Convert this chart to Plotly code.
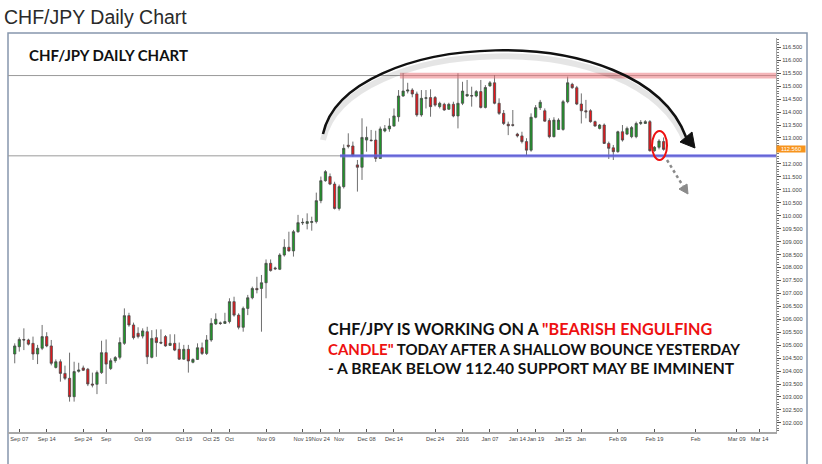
import numpy as np
import plotly.graph_objects as go

# ---------------- data ----------------
opens = [104.66, 104.94, 105.22, 105.20, 105.07, 104.66, 104.88, 105.33, 104.97, 104.14,
         104.36, 103.91, 103.72, 103.01, 103.99, 104.12, 104.07, 103.50, 103.49, 103.94,
         104.71, 104.10, 104.40, 104.53, 105.07, 106.14, 105.78, 105.46, 105.35, 105.52,
         104.53, 105.29, 105.11, 105.33, 104.99, 105.07, 104.84, 104.46, 104.84, 104.34,
         104.45, 104.90, 104.68, 105.20, 105.82, 105.86, 105.84, 105.91, 106.68, 106.16,
         105.69, 106.42, 106.83, 107.19, 107.19, 107.41, 108.16, 107.98, 107.93, 108.48,
         108.78, 108.64, 109.38, 109.72, 109.70, 109.74, 109.77, 110.58, 111.35, 111.51,
         111.22, 110.28, 111.12, 112.72, 112.69, 111.96, 111.87, 112.92, 112.92, 112.92,
         112.21, 113.27, 113.35, 113.46, 113.82, 114.62, 114.81, 114.85, 114.70, 113.89,
         114.53, 114.56, 114.56, 114.21, 114.30, 114.11, 114.30, 113.85, 114.34, 114.62,
         114.64, 114.62, 114.79, 114.18, 115.01, 115.13, 114.34, 113.95, 113.53, 113.51,
         113.15, 113.08, 112.86, 112.53, 113.80, 114.17, 114.05, 113.67, 113.05, 113.33,
         113.33, 114.40, 115.07, 114.94, 114.31, 114.05, 114.05, 113.63, 113.37, 113.50,
         112.79, 112.62, 112.47, 113.24, 113.15, 113.05, 113.05, 113.56, 113.56, 113.63,
         112.51, 112.64, 112.86]
highs = [105.07, 105.30, 105.65, 105.25, 105.33, 105.01, 105.78, 105.50, 105.20, 104.45,
         104.45, 104.21, 104.71, 104.36, 104.32, 104.21, 104.12, 103.94, 104.02, 105.17,
         105.22, 104.49, 104.58, 105.30, 106.42, 106.25, 105.87, 105.69, 105.65, 105.71,
         105.58, 105.61, 105.61, 105.39, 105.42, 105.42, 105.10, 105.01, 105.01, 104.49,
         105.07, 105.10, 105.39, 106.04, 106.23, 105.91, 106.25, 106.81, 106.87, 106.23,
         106.49, 106.94, 107.26, 107.64, 107.71, 108.31, 108.31, 108.03, 108.55, 109.09,
         109.38, 109.45, 110.03, 109.90, 110.09, 109.96, 110.89, 111.51, 111.76, 111.63,
         111.31, 111.20, 112.75, 113.18, 112.86, 112.15, 113.76, 113.44, 113.31, 113.28,
         113.44, 113.50, 113.76, 114.14, 114.85, 115.50, 115.13, 114.92, 114.79, 114.85,
         114.85, 114.88, 114.62, 114.40, 114.36, 114.36, 114.40, 115.50, 115.17, 115.24,
         114.98, 114.85, 115.24, 115.04, 115.20, 115.43, 114.53, 114.08, 113.63, 114.08,
         113.20, 113.24, 112.99, 113.95, 114.27, 114.47, 114.14, 113.76, 113.80, 113.76,
         114.47, 115.37, 115.13, 115.01, 114.72, 114.47, 114.11, 113.67, 113.54, 113.56,
         112.86, 112.73, 113.28, 113.50, 113.44, 113.46, 113.63, 113.69, 113.69, 113.69,
         112.69, 112.95, 113.02]
lows = [104.30, 104.75, 104.81, 104.99, 104.43, 104.27, 104.81, 104.92, 104.22, 104.10,
        103.59, 103.65, 102.82, 102.82, 103.94, 104.00, 103.42, 103.37, 103.11, 103.89,
        103.50, 104.04, 104.32, 104.45, 105.01, 105.71, 105.22, 105.26, 105.26, 104.27,
        104.49, 104.55, 105.04, 104.94, 104.97, 104.77, 104.43, 104.43, 103.94, 104.30,
        104.43, 104.62, 104.62, 105.13, 105.78, 105.78, 105.82, 105.84, 106.10, 105.61,
        105.52, 106.16, 106.77, 107.00, 105.52, 106.81, 107.84, 107.90, 107.90, 108.42,
        108.61, 108.42, 109.34, 109.64, 109.47, 109.42, 109.70, 110.48, 111.31, 111.18,
        110.24, 110.20, 111.05, 112.60, 112.28, 110.93, 111.38, 112.47, 112.86, 112.08,
        112.21, 113.22, 113.24, 113.44, 113.63, 114.59, 114.72, 114.57, 113.82, 113.82,
        114.14, 113.82, 114.21, 114.14, 114.05, 114.08, 113.80, 113.37, 114.27, 114.59,
        114.21, 114.57, 114.14, 114.14, 114.98, 114.30, 113.89, 113.50, 113.11, 113.44,
        113.02, 112.79, 112.34, 112.47, 113.76, 114.08, 113.63, 112.99, 113.02, 113.31,
        113.28, 114.34, 114.90, 114.27, 113.56, 113.76, 113.59, 113.44, 113.33, 112.77,
        112.19, 112.15, 112.43, 112.86, 113.11, 112.99, 112.99, 113.50, 113.54, 112.47,
        112.47, 112.56, 112.51]
closes = [104.97, 105.22, 105.20, 105.04, 104.66, 104.88, 105.33, 104.97, 104.30, 104.36,
          103.91, 103.72, 103.01, 103.98, 104.04, 104.03, 103.50, 103.46, 103.94, 104.71,
          104.27, 104.40, 104.52, 105.10, 106.14, 105.78, 105.29, 105.33, 105.55, 104.55,
          105.26, 105.10, 105.08, 104.97, 105.07, 104.81, 104.46, 104.84, 104.39, 104.45,
          104.90, 104.68, 105.20, 105.84, 106.00, 105.84, 105.91, 106.68, 106.16, 105.69,
          106.42, 106.83, 107.19, 107.14, 107.41, 108.16, 107.88, 107.95, 108.48, 108.78,
          108.64, 109.38, 109.73, 109.74, 109.77, 109.77, 110.58, 111.35, 111.70, 111.22,
          110.28, 111.12, 112.60, 112.68, 112.34, 111.87, 113.02, 113.02, 112.90, 112.21,
          113.35, 113.36, 113.46, 113.85, 114.62, 114.81, 114.85, 114.70, 113.89, 114.53,
          114.55, 114.21, 114.27, 114.34, 114.08, 114.30, 113.85, 114.34, 114.81, 114.68,
          114.62, 114.79, 114.18, 114.95, 115.13, 114.34, 113.95, 113.56, 113.47, 113.49,
          113.08, 112.86, 112.53, 113.80, 114.17, 114.38, 113.65, 113.05, 113.69, 113.69,
          114.40, 115.13, 114.94, 114.31, 114.05, 114.01, 113.63, 113.46, 113.50, 112.79,
          112.60, 112.47, 113.24, 112.92, 113.37, 113.40, 113.56, 113.60, 113.63, 112.51,
          112.64, 112.88, 112.56]
bar_index = list(range(len(opens)))

tick_index = [1, 7, 15, 20, 28, 37, 43, 47, 55, 63, 67, 71, 77, 83, 92, 98, 104, 110,
              114, 120, 124, 132, 140, 149, 158, 163]
tick_labels = ["Sep 07", "Sep 14", "Sep 24", "Sep", "Oct 09", "Oct 19", "Oct 25", "Oct",
               "Nov 09", "Nov 19", "Nov 24", "Nov", "Dec 08", "Dec 14", "Dec 24", "2016",
               "Jan 07", "Jan 14", "Jan 19", "Jan 25", "Jan", "Feb 09", "Feb 19", "Feb",
               "Mar 09", "Mar 14"]

price_ticks = [102.0, 102.5, 103.0, 103.5, 104.0, 104.5, 105.0, 105.5, 106.0, 106.5,
               107.0, 107.5, 108.0, 108.5, 109.0, 109.5, 110.0, 110.5, 111.0, 111.5,
               112.0, 113.0, 113.5, 114.0, 114.5, 115.0, 115.5, 116.0, 116.5]
price_tick_labels = ["{:.3f}".format(v) for v in price_ticks]

resistance = 115.41
support = 112.31
last_price = 112.56
resistance_start = 84.3   # bar index where the red zone starts
support_start = 71.2      # bar index where the blue zone starts

# ---------------- geometry helpers ----------------
W, H = 822, 464
PL, PR, PT, PB = 8, 776, 38, 432
XR = [-1.47, 166.6]
YR = [101.647, 116.86]


def dx(px):
    return XR[0] + (px - PL) / (PR - PL) * (XR[1] - XR[0])


def dy(py):
    return YR[0] + (PB - py) / (PB - PT) * (YR[1] - YR[0])


def ppx(px):
    return (px - PL) / (PR - PL)


def ppy(py):
    return (PB - py) / (PB - PT)


fig = go.Figure()
fig.add_trace(go.Candlestick(
    x=bar_index, open=opens, high=highs, low=lows, close=closes,
    increasing=dict(line=dict(color="#4a4a4a", width=0.8), fillcolor="#1e9a28"),
    decreasing=dict(line=dict(color="#4a4a4a", width=0.8), fillcolor="#e8161b"),
    whiskerwidth=0, showlegend=False, hoverinfo="skip",
))

shapes = []
shapes.append(dict(type="line", xref="x", yref="y", x0=XR[0], x1=XR[1], y0=resistance, y1=resistance,
                   line=dict(color="#9a9a9a", width=1), layer="below"))
shapes.append(dict(type="line", xref="x", yref="y", x0=XR[0], x1=XR[1], y0=support, y1=support,
                   line=dict(color="#9a9a9a", width=1), layer="below"))
shapes.append(dict(type="rect", xref="x", yref="y", x0=resistance_start, x1=XR[1],
                   y0=resistance - 0.11, y1=resistance + 0.11,
                   fillcolor="rgba(235,120,125,0.55)", line=dict(width=0), layer="above"))
shapes.append(dict(type="rect", xref="x", yref="y", x0=support_start, x1=XR[1],
                   y0=support - 0.075, y1=support + 0.075,
                   fillcolor="rgba(120,120,235,0.45)", line=dict(width=0), layer="above"))
shapes.append(dict(type="line", xref="x", yref="y", x0=support_start, x1=XR[1], y0=support, y1=support,
                   line=dict(color="rgba(90,90,215,0.85)", width=2), layer="above"))


def bez(pts, off=0.0):
    (a, b, c, d) = pts
    return ("M {},{} C {},{} {},{} {},{}".format(
        dx(a[0]), dy(a[1] + off), dx(b[0]), dy(b[1] + off),
        dx(c[0]), dy(c[1] + off), dx(d[0]), dy(d[1] + off)))


arc = [(323, 134), (345, 30), (640, 14), (686, 137)]
shapes.append(dict(type="path", xref="x", yref="y", path=bez(arc, 6),
                   line=dict(color="rgba(0,0,0,0.10)", width=6), layer="above"))
shapes.append(dict(type="path", xref="x", yref="y", path=bez(arc, 0),
                   line=dict(color="#111111", width=2.5), layer="above"))


def tri(p1, p2, p3):
    return "M {},{} L {},{} L {},{} Z".format(dx(p1[0]), dy(p1[1]), dx(p2[0]), dy(p2[1]), dx(p3[0]), dy(p3[1]))


shapes.append(dict(type="path", xref="x", yref="y", path=tri((695, 148), (692, 132), (680, 142)),
                   fillcolor="#111111", line=dict(color="#111111", width=1), layer="above"))
shapes.append(dict(type="line", xref="x", yref="y", x0=dx(667), y0=dy(160), x1=dx(683), y1=dy(186),
                   line=dict(color="#8a8a8a", width=2.5, dash="dot"), layer="above"))
shapes.append(dict(type="path", xref="x", yref="y", path=tri((688, 194), (687, 184), (679, 189)),
                   fillcolor="#8a8a8a", line=dict(color="#8a8a8a", width=1), layer="above"))
shapes.append(dict(type="circle", xref="x", yref="y", x0=dx(652), x1=dx(667), y0=dy(131), y1=dy(160),
                   line=dict(color="#e11", width=2), layer="above"))
shapes.append(dict(type="rect", xref="paper", yref="paper", x0=ppx(8), x1=ppx(807), y0=ppy(475), y1=ppy(33),
                   line=dict(color="#8797ad", width=1.5), layer="below"))

annotations = []
annotations.append(dict(xref="paper", yref="paper", x=ppx(2), y=ppy(17), xanchor="left", yanchor="middle",
                        text="CHF/JPY Daily Chart", showarrow=False,
                        font=dict(family="Liberation Sans, Arial", size=19.5, color="#2a2a2a")))
annotations.append(dict(xref="paper", yref="paper", x=ppx(27), y=ppy(55), xanchor="left", yanchor="middle",
                        text="<b>CHF/JPY DAILY CHART</b>", showarrow=False,
                        font=dict(family="Lato, Open Sans", size=15, color="#111")))
annotations.append(dict(xref="paper", yref="paper", x=ppx(326), y=ppy(348), xanchor="left", yanchor="middle",
                        text=("<b><span style='font-size:16.2px'>CHF/JPY IS WORKING ON A "
                              "<span style='color:#ee1111'>\"BEARISH ENGULFING</span></span><br>"
                              "<span style='color:#ee1111'>CANDLE\"</span> TODAY AFTER A SHALLOW BOUNCE YESTERDAY<br>"
                              "<span style='font-size:15.6px'>- A BREAK BELOW 112.40 SUPPORT MAY BE IMMINENT</span></b>"),
                        showarrow=False, align="left",
                        font=dict(family="Lato, Open Sans", size=15, color="#111")))
annotations.append(dict(xref="paper", yref="y", x=1.0, y=last_price, xanchor="left", yanchor="middle",
                        text="{:.3f}".format(last_price), showarrow=False, bgcolor="#f7941d",
                        borderpad=0, width=28, height=6, align="center",
                        font=dict(family="Liberation Sans, Arial", size=5.7, color="white")))

fig.update_layout(
    width=W, height=H,
    margin=dict(l=PL, r=W - PR, t=PT, b=H - PB, autoexpand=False),
    paper_bgcolor="white", plot_bgcolor="white",
    shapes=shapes, annotations=annotations,
    showlegend=False,
    xaxis=dict(range=XR, rangeslider=dict(visible=False), showgrid=False, zeroline=False,
               automargin=False, showline=True, linecolor="#a8a8a8", linewidth=2,
               tickmode="array", tickvals=tick_index, ticktext=tick_labels, tickangle=0,
               ticks="inside", ticklen=3, tickcolor="#555", tickwidth=1,
               tickfont=dict(family="Liberation Sans, Arial", size=5.7, color="#444")),
    yaxis=dict(range=YR, side="right", showgrid=False, zeroline=False, automargin=False,
               showline=True, linecolor="#a8a8a8", linewidth=1,
               tickmode="array", tickvals=price_ticks, ticktext=price_tick_labels,
               ticks="outside", ticklen=4, tickcolor="#555", tickwidth=1,
               minor=dict(tickmode="linear", tick0=102, dtick=0.1, ticklen=2, tickcolor="#777", ticks="outside"),
               tickfont=dict(family="Liberation Sans, Arial", size=5.7, color="#444")),
)

fig.write_html("out.html", config={"displayModeBar": False},
               post_script="document.body.style.margin='0';document.body.style.overflow='hidden';")
